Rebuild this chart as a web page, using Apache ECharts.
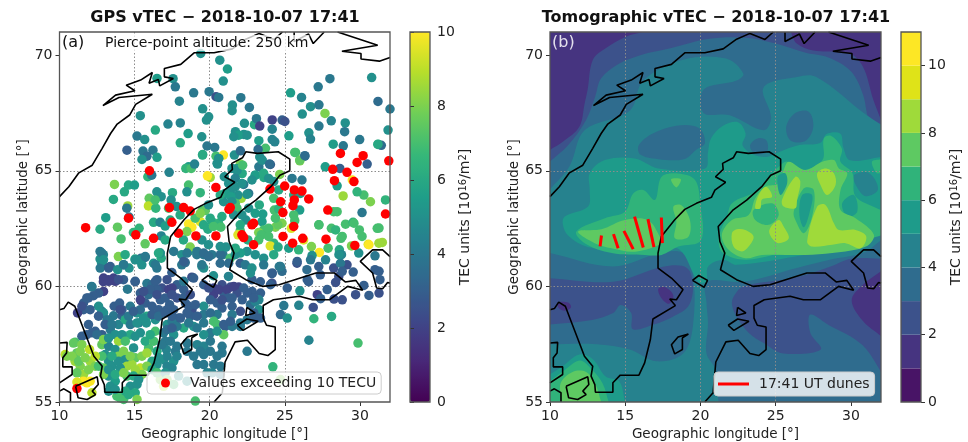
<!DOCTYPE html>
<html><head><meta charset="utf-8">
<script src="https://cdn.jsdelivr.net/npm/echarts@6/dist/echarts.min.js"></script>
<style>html,body{margin:0;padding:0;background:#fff}#c{width:968px;height:442px}</style>
</head><body><div id="c"></div>
<script>
// ---------- GPS pierce points: [lon, lat, TEC]
const gpsPoints = [
[19.4,70.07,5],[20.67,69.78,5],[21.18,69.4,5.5],[20.9,68.88,5],[16.49,68.99,5.5],[17.56,68.98,5],[17.71,68.63,4],[18.93,68.37,4],[19.96,68.42,4],[17.98,68.01,4.5],[20.42,68.2,2.5],[20.6,68.17,4],[22.07,68.16,4],[19.53,67.68,5],[22.64,67.74,4],[21.51,67.84,5],[21.49,67.6,5],[15.38,67.38,5],[19.93,67.33,5],[19.78,67.19,5],[18.04,67.07,4.5],[17.22,67.02,4.5],[16.38,66.76,6],[18.56,66.61,5.5],[19.47,66.47,5],[15.16,66.5,4],[15.67,66.35,5],[18.04,66.21,6],[14.49,65.89,3],[15.56,65.85,4],[16.22,65.89,4],[15.82,65.63,3.5],[16.49,65.58,5.5],[15.49,65.49,5],[19.82,66.07,4],[20.33,66.01,4],[19.53,65.7,6],[20.42,65.63,7],[20.91,65.68,10],[20.49,65.32,5],[20.6,65.53,5],[21.64,65.68,5],[22.04,65.86,3.5],
[22.31,67.05,5],[22.98,66.99,6],[23.11,67.25,4],[24.16,67.2,2],[24.82,67.19,3],[25,67.13,2.5],[23.33,66.93,2],[24.16,66.8,4.5],[21.71,66.69,5],[22.27,66.57,5],[21.93,66.54,5.5],[22.49,66.54,5],[21.6,66.47,5],[23.27,66.3,5.5],[24.16,66.35,4.5],[24.33,66.25,4.5],[25.27,66.51,5.5],[26.6,66.64,5],[26.71,66.37,4.5],[27.27,66.93,4],[28.09,67.16,4.5],[29.02,67.07,5],[28.98,66.69,4],[27.67,67.48,8],[26.71,67.77,5],[27.27,67.85,4],[26.16,67.45,5],[25.38,68.37,5.5],[26.11,68.17,4.5],[27.22,68.63,4],[28,68.98,4],[30.78,69.03,5],[31.2,68,3.5],[32,67.67,4],[31.87,66.76,5],[29.98,66.35,4],[28.22,66.15,5.5],[28.89,66.08,4],[31.2,66.14,6.5],[31.42,66.1,3.5],[26.33,65.63,3.5],[25.71,65.79,7],[26,65.43,8],[23.71,65.97,7],[23.22,65.92,3.5],[23.33,65.6,5],[24.04,65.27,3],[23.49,65.46,5],[23.27,65.17,4],[23.04,64.81,5.5],[23.6,64.71,6],[22.04,65.29,8],[22.16,64.88,6],[21.82,65.1,5.5],
[15.88,64.74,6.5],[16.14,64.81,4],[17.3,64.93,4.5],[18.59,65.17,5.5],[18.41,65.1,6.5],[18.77,65.1,7],[18.99,65.29,4.5],[19.52,65.68,6],[20.03,64.71,8.5],[19.85,64.78,10],[20.52,65.29,5],[20.59,65.53,5],[20.97,64.74,5],[21.48,65.1,5],[21.81,65,5],[22.19,65.24,7],[21.7,64.67,4.5],[22.26,64.41,4],[22.59,64.02,4],[23.03,64.81,5.5],[23.59,64.89,6],[23.48,65.46,5],[23.98,65.29,3.5],[24.66,64.84,8],[25.48,64.67,4],[26.14,64.6,4],[25.99,65.46,7.5],[25.66,65.79,7],[26.33,65.65,3.5],[27.69,65.17,5.5],[28.66,65.1,3],[30.26,63.95,7],[29.81,64.09,6.5],[28.88,63.91,8.5],[28.48,64.35,5.5],[30.48,65.29,3],[29.49,64.6,10],[31.2,66.15,6],[30.7,63.66,8],[31.7,63.74,6.5],[30.14,63.19,4],
[13.66,64.41,8],[14.32,64.09,6],[14.59,64.38,6],[14.99,64.38,5.5],[13.59,63.76,6],[14.54,63.48,8.5],[14.48,63.38,4],[13.08,62.97,5.5],[12.7,62.47,6],[13.86,62.56,7.5],[15.3,62.51,6.5],[14.92,62.33,6.5],[14.1,62.05,7],[15.7,61.84,7.5],[14.63,63,4],[15.97,63.81,7.5],[15.92,63.48,9],[16.48,64.09,5],[16.77,63.88,5],[17.52,64.05,6],[17.43,63.74,5],[16.41,63.38,6.5],[17.26,63.38,7],[16.26,62.77,6],[16.7,62.77,4.5],[17.03,62.61,5.5],[16.77,62.18,4.5],[18.59,64.38,7],[18.48,64.09,5],[19.37,64.05,6.5],[19.52,63.3,7],[19.7,63.28,7.5],[18.59,62.7,10],[18.81,62.56,10],[18.48,62.37,8],[19.37,62.8,9.5],[20.03,62.95,6],[20.14,62.8,6],[20.59,62.73,6.5],[20.74,62.56,7],[19.88,62.47,6],
[21.37,64.09,5],[21.03,64.02,5.5],[21.59,63.81,5],[22.1,63.81,8.5],[21.88,63.95,5],[22.48,63.98,5],[21.41,63.88,5.5],[21.7,63.59,7],[22.59,63.38,5],[23.53,63.13,5.5],[23.3,63.52,6],[24.26,63.81,7],[24.3,63.3,7],[24.59,63.35,6.5],[25.99,63.3,5.5],[25.59,63.09,7],[25.66,62.84,7],[24.81,62.73,8],[24.37,62.56,8],[24.54,62.66,7.5],[23.48,62.8,5.5],[23.59,62.44,7],[23.26,62.33,8],[22.41,62.87,5],[22.03,62.41,7],[21.88,62.23,9.5],[22.54,62.01,6],[23.43,62.23,7],[24.26,61.87,6.5],[24.03,61.75,9.5],[24.55,61.7,6],[25.26,61.65,5.5],[25.43,62.51,9.5],[26.25,62.01,9.5],[26.77,61.72,8],[27.3,61.47,10],[27.88,61.65,7],[26.81,61.33,5],[25.92,61.58,6.5],[24.26,61.37,6],[23.59,61.22,5],[23.03,61.37,5],[22.48,61.51,5],[22.03,61.44,5.5],
[27.26,62.66,7],[28.48,63.23,7],[28.25,63.23,7],[28.1,62.51,7],[28.38,62.44,6.5],[29.04,62.69,7],[29.54,62.77,6.5],[29.96,62.44,7],[31.15,62.51,7],[28.74,62.08,7],[30.14,62.16,7],[30.55,61.82,9.5],[31.26,61.87,8.5],[29.44,61.75,8],[28.63,61.58,6],[28.77,61.37,4.5],[29.92,61.44,5],[31,61.32,4],
[12.7,61.51,4],[12.92,61.37,4.5],[12.7,61.18,5],[12.81,61,5],[13.26,60.82,3],[13.92,61.29,8],[14.37,61.37,6],[14.26,60.93,4],[14.63,60.79,5],[15.03,61.18,6],[15.43,61.22,3.5],[15.7,61.25,3.5],[15.48,60.93,5],[16.26,61,5],[16.48,60.79,4],[16.7,61.44,6.5],[16.77,61.22,6],[17.48,60.6,3],[18.14,60.93,4],[18.37,61.03,3.5],[18.59,61.51,6],[18.7,61.7,8],[18.14,61.37,5],[19.14,61.37,4],[19.59,61.37,4],[19.48,60.86,5],[19.92,61.29,3.5],[19.92,61.8,5],[20.14,61.37,4],[20.88,61.37,4],[21.37,61.22,7],[21.08,61.7,5],[22.03,61,3],[22.37,60.93,4],[23.59,60.93,4],[22.81,60.79,5],[24.14,60.55,3],[24.63,60.86,4],[24.81,60.65,3.5],[25.81,61,2.5],[26.47,60.72,3.5],[27.26,60.86,3],[28.25,60.79,2.5],[29.14,60.93,2.5],[28.7,61,4],[31,60.72,3],[18.81,60.4,2.5],[20.25,60.46,5],[21.25,60.43,4.5],[22.81,60.29,3],[23.37,60.2,3],[24.14,60.14,2.5],[13.25,60.29,2],[12.92,60.2,2],[13.59,60.29,2],[14.26,60.29,3],[15.03,60.2,3],[12.14,60,4],[26.58,60.2,3],[27.36,60.5,3],[28.59,60.43,2.5],[30.26,60.04,3],
[12.16,59.97,4],[12.93,59.78,2],[12.6,59.71,3],[12.27,59.6,3],[13.71,60.22,2],[14.53,59.88,4],[15.04,60.22,3],[15.82,60.12,4],[16.49,60.29,3],[16.16,60.07,3.5],[16.82,59.93,2.5],[17.27,59.86,2],[16.49,59.86,3],[15.38,59.71,3],[15.93,59.64,3.5],[17.82,60.07,3],[18.27,59.86,3],[18.27,60.22,4],[18.93,60.36,3],[19.6,60.07,3],[20.27,59.93,2],[20.82,60.07,2.5],[21.38,59.97,2.5],[21.93,59.97,2],[20.93,59.71,3],[20.27,59.64,2],[21.82,59.71,2.5],[22.82,59.78,3],[23.38,59.71,3],[24.04,60.07,3],[25.16,59.93,3],[26,59.81,5],[26.49,60.29,3],[27.16,59.64,2],[27.82,59.86,3],[28.38,60.17,2.5],[28.82,59.42,2.5],[29.71,59.64,2.5],[30.6,59.61,3],[31.27,59.71,2.5],[31.33,60.29,3],[28.27,59.45,2.5],[27.38,59.47,3],
[11.6,58.99,3],[11.2,58.85,2],[11.6,59.28,3],[11.93,59.5,3],[12.82,58.92,4],[12.93,58.85,5],[13.64,59.14,3],[14,59.28,3],[13.6,58.73,4],[14.16,58.73,3],[14.71,59.14,4],[15.49,59.35,2],[15.71,59.28,3],[15.16,58.85,5],[16.16,59.14,3],[16.71,59.42,3],[16.6,58.99,3],[17.33,59.21,3],[17.82,59.5,2.5],[17.6,58.99,3],[18.38,59.28,3],[18.82,58.99,2.5],[19.6,59.14,5],[20.04,59.42,3],[20.49,59.28,3],[20.82,59.06,3],[21.49,59.14,3],[22.16,59.42,3],[22.71,59.21,3.5],[23.27,59.42,4.5],[23.27,58.99,5],[22.04,58.92,2.5],[21.49,58.78,4],[20.49,58.78,4],[18.71,58.71,3],[25.93,59.18,4.5],[24.93,59.17,4],[24.71,58.78,3.5],[25.16,58.63,5],[26.89,59.09,2.5],[26.93,58.6,6.5],[28.11,58.7,6],
[12.6,59.14,5],[13.16,58.56,4],[14.16,58.99,3],[15.38,58.99,3.5],[17.16,58.99,3],[17.93,58.63,3],[19.6,58.78,4],[20.04,58.85,3.5],[21.04,58.27,3],[22.04,58.42,4],[22.49,58.56,4],[22.93,58.63,3],[23.04,59.35,4.5],[21.49,59.5,3],
[22.71,60.58,5],[24.16,60.58,3],[24.71,60.86,4],[25.82,61.08,3],[26.71,61.15,4],[27.71,61.15,4.5],[28.6,61.37,5],[28.82,60.65,3],[29.55,60.62,3],[31.27,60.65,3],[31.27,62.52,7],[31.49,61.9,8.5],[29.6,62.73,7],[28.82,62.16,7],[27.27,62.66,7],[30.6,61.8,10],
[11.49,57.84,3],[11.93,58.35,3],[12.38,58.06,3],[12.82,57.91,3],[13.27,58.49,4],[13.38,58.13,4],[13.93,58.35,4.5],[13.71,57.91,5],[14.38,58.56,6],[14.71,58.35,4],[15.27,58.42,4],[15.82,58.71,6],[15.78,58.42,5],[16.38,58.56,5],[16.38,58.06,7],[15.38,57.99,5],[14.71,57.91,6],[13.93,57.63,8.5],[12.82,57.48,7.5],[13.27,57.41,4.5],[11.04,57.58,7],[10.38,57.05,9],[11.16,57.12,7.5],[11.38,57.19,8],[12,57.27,9],[13.71,57.27,5],[14.27,57.19,8],[14.93,57.34,5],[15.93,57.34,7],[16.49,57.19,6],[17.16,58.35,5],[17.49,58.49,4],[16.93,57.99,4],[17.6,57.91,5],[17.04,57.63,4],[18.27,58.2,6],[17.82,58.27,4],[18.93,58.27,5],[19.6,58.42,4],[20.27,58.49,7],[20.49,58.35,7],[20.04,57.99,4],[20.93,57.91,7.5],[21.49,58.27,4],[20.82,57.41,4],[19.16,57.48,4.5],[19.6,57.41,4.5],[18.93,56.98,4],[19.38,57.19,4],[17.82,57.41,4],[17.11,57.27,4.5],[20.04,57.19,4],[20.82,57.12,4],[22.49,57.19,4],[24.2,56.52,6.5],[26.6,57.67,4.5],[29.87,57.55,7],
[10.49,56.98,8],[11.04,56.76,8.5],[11.38,56.55,8],[11.6,56.19,8.5],[11.16,56.26,7.5],[12.04,56.76,8.5],[12.38,56.55,8],[12.04,55.9,10],[11.6,55.9,10],[11.16,55.86,9.5],[11.82,55.83,10],[12.16,55.4,9],[13.04,57.05,5],[13.27,56.76,5],[12.82,56.98,7],[13.49,56.55,5],[12.93,56.47,7.5],[13.93,56.98,8],[14.38,56.83,5],[14.49,56.55,8.5],[14.04,56.47,5],[15.04,56.91,7.5],[15.49,56.98,8],[15.82,57.12,8.5],[16.16,56.76,6],[14.82,56.62,8.5],[15.38,56.47,9],[15.82,56.55,8],[16.49,56.62,5],[16.93,56.83,5],[17.16,56.55,4.5],[17.6,56.76,5],[17.49,56.47,4.5],[13.27,56.12,5],[13.71,55.9,5.5],[13.38,55.68,5],[14.49,56.12,7],[14.71,55.68,5],[14.04,55.18,7],[15.16,55.76,5],[15.04,55.4,6],[15.49,56.19,8],[16.93,55.68,9],[18.49,55.9,5],[16.71,55.97,8],[17.93,56.12,5],[19.82,56.26,4.5],[19.16,56.62,4],[19.6,56.62,4],[20.27,56.62,4],[20.71,56.55,4],[20.16,56.26,4.5],[20.71,56.19,4],[24.71,55.97,8],[19.04,55.04,7],[13.82,55.25,7],[14.27,55.11,7],
[12.93,60.36,2],[13.27,60.22,2],[13.6,60.36,2],[13.93,60.29,2.5],[12.71,60.79,4],[13.27,60.79,3],[12.82,61.44,4],[12.93,61.15,5],[13.38,60.86,3],[13.87,60.72,5],[14.27,60.94,4],[15.04,61.15,5],[15.38,61.15,5],[15.71,61.29,4],[16.38,60.94,4],[16.71,61.44,5],[17.6,61.51,4],[18.27,61.08,3],[18.49,61.44,4],[19.16,61.51,4],[19.6,61.44,3.5],[19.93,61.29,3.5],[19.6,60.79,5],[20.71,61.37,3.5],
[17.16,60.29,2.5],[17.49,59.93,2],[16.38,60.22,3],[16.04,59.86,3],[15.38,59.42,2],[15.6,59.78,2.5],[16.49,59.64,2.5],[17.04,59.5,3],[17.49,59.64,2.5],[18.27,59.5,3],[18.6,59.14,3],[19.04,59.21,3],[18.71,59.64,2.5],[19.93,59.93,2.5],[20.6,59.86,2],[21.16,59.86,2],[21.6,60,2],[21.27,59.5,3],[20.82,59.42,2.5],[22.49,59.71,3],[22.27,59.93,3],[22.93,59.5,3],
[11.49,59.14,2.5],[11.82,59.5,3],[12.04,58.99,3],[12.6,58.71,3],[13.04,58.35,3],[13.49,58.35,4],[14.04,58.99,2.5],[14.6,58.71,4],[14.93,58.92,3],[15.16,58.42,5],[15.6,58.63,5],[16.16,58.78,3],[16.6,58.71,3.5],[17.04,58.85,3],[17.49,58.71,3],[17.16,58.13,3.5],[17.49,58.2,3],[18.05,58.63,3],[18.49,58.85,3],[19.16,58.71,3],[18.6,58.42,4],[19.16,58.2,4],[19.6,57.91,5],[20.49,58.06,5],[20.93,58.35,3],[22.04,58.27,4],[21.38,58.49,3],[22.93,58.85,3],[23.38,58.63,3],
[12.16,57.99,3],[11.82,57.91,3],[12.49,57.91,3.5],[12.93,57.7,8],[13.27,57.77,5],[14.16,57.91,5],[14.38,57.63,7],[15.04,57.84,5],[15.71,57.63,6],[16.27,57.63,7],[16.04,57.91,6],[16.82,57.48,4],[17.38,57.63,4],[17.71,57.19,4],[18.49,57.55,4],[18.49,57.19,4],[20.04,57.63,4],[20.49,56.98,4],[19.6,57.05,4],[17.16,56.98,4.5],[16.6,56.91,5],[17.82,56.98,4.5],
[10.93,57.55,7.5],[11.49,57.48,8],[10.82,56.98,8],[11.27,56.76,7.5],[11.71,56.91,8],[12.38,56.98,9],[11.93,56.4,8],[12.6,56.55,7],[12.93,56.19,8],[13.27,56.4,5],[13.71,56.19,6],[13.93,56.76,5],[13.49,56.98,6],[14.71,56.98,8],[14.27,56.26,8],[15.04,56.4,8.5],[14.93,56.12,6],[15.27,55.97,5],[16.16,56.4,6],[16.49,56.26,7],[17.04,56.26,5],[17.16,55.97,8],[17.6,55.76,7],[13.27,55.47,5],[13.71,55.54,5],[14.38,55.47,6],[15.16,55.11,8],[14.6,55.32,6],
[21.26,64.45,5],[21.7,64.31,5],[22.14,64.45,5],[20.92,63.66,5],[21.48,63.66,5],[20.7,63.95,6],[21.81,63.38,7],[22.14,63.09,5],[21.59,63.09,5],[23.03,63.16,5.5],[22.03,62.66,6],[23.26,62.01,7],[23.92,62.51,7],[23.92,62.16,7],[24.37,62.95,7],[25.59,63.95,6],[26.03,64.02,5.5],[24.59,64.17,6],[24.26,64.53,5],[23.92,64.67,5],[22.81,64.6,5],[16.37,63.74,7],[17.81,63.45,5],[18.03,63.09,6],[19.03,62.95,7],[19.59,62.66,6],[20.25,62.59,7],[20.81,63.02,6],[19.48,62.01,5],[18.25,62.01,6],[19.92,63.52,5],[19.37,63.16,8],[17.37,62.87,6],[17.04,62.01,6],[16.59,61.44,6],[19.48,60.93,4],[20.7,61,3.5],[21.26,61,3.5],[21.7,61.37,5],[20.7,61.72,5],[21.7,61.65,6]
];
// Points above the colour scale, drawn in red
const redPoints = [[15.99,65],[28.7,65.75],[30.21,65.65],[29.81,65.36],[31.92,65.43],[28.19,65.06],[29.14,64.93],[28.3,64.57],[29.6,64.53],[20.41,64.28],[24.01,64.21],[24.99,64.34],[25.63,64.17],[26.14,64.12],[26.59,63.78],[24.72,63.66],[25.63,63.74],[25.54,63.49],[17.32,63.41],[18.26,63.41],[18.7,63.26],[21.37,63.41],[21.28,63.33],[24.87,63.19],[27.86,63.3],[31.7,63.13],[14.59,62.95],[17.48,62.77],[22.92,62.73],[22.81,62.66],[11.74,62.54],[25.59,62.59],[17.92,62.3],[15.08,62.23],[16.26,62.08],[19.08,62.18],[20.41,62.18],[22.14,62.23],[22.26,62.11],[24.88,62.16],[26.19,62.08],[27.74,62.04],[22.92,61.8],[25.52,61.87],[29.66,61.77],[11.16,55.58]];

const coastNorway = [[10,63.88],[10.62,64.31],[11.29,64.91],[12.18,65.24],[12.84,65.97],[13.4,66.61],[13.84,67.02],[14.67,67.41],[15.07,67.87],[16.18,68.31],[13.96,68.17],[12.89,67.82],[13.73,68.27],[15.02,68.46],[14.44,68.7],[15.4,68.92],[16.18,69.25],[15.96,68.78],[16.58,68.95],[16.67,68.67],[17.58,68.99],[16.98,69.06],[16.98,69.42],[18.07,69.6],[18.96,70.1],[20.29,70.1],[21.51,70.27],[22.4,70.69],[23.29,70.94],[24.29,70.68],[24.84,71]];
const coastNorth1 = [[25.62,71],[25.62,70.59],[26.58,70.91],[26.89,70.5],[27.62,71]];
const coastKola = [[28.51,71],[31.18,70.43],[28.8,70.17],[30.07,70.07],[30.07,69.83],[31.29,69.74],[32,69.9]];
const coastSweden = [[25.33,65],[25.33,65.5],[24.56,65.82],[23.18,65.75],[22.4,65.82],[22.18,65.56],[21.47,65.32],[21.51,65.06],[21,64.74],[21.67,64.5],[20.96,64.16],[20.73,63.85],[19.73,63.59],[18.96,63.33],[18.29,62.88],[17.4,62.16],[17.18,61.44],[17.18,60.79],[18.07,60.36],[18.84,59.86],[18.4,59.42],[17.96,59.45],[18.33,59.17],[16.84,58.59],[16.67,57.7],[16.29,56.69],[15.91,56.16],[14.67,56.16],[14.18,55.83],[14.18,55.42],[13.02,55.42],[12.98,55.75],[12.73,56.12],[12.84,56.55],[12.29,56.98],[11.91,57.63],[11.4,58.49],[11.02,59.14],[10.58,59.32],[10.29,59.04],[10,58.99]];
const coastFinland = [[25.33,65],[24.67,64.81],[24.07,64.31],[23.07,63.73],[22.18,63.31],[21.18,62.59],[21.29,61.94],[21.62,61.44],[21.33,60.72],[22.4,60.29],[23.51,60],[24.62,60.07],[27.07,60.58],[28.29,60.58],[29.02,60.19],[29.73,60.26],[30.18,59.83],[29.18,60],[27.96,59.42],[26.84,59.42],[25.96,59.57],[24.24,59.42],[23.56,59.17],[23.56,58.63],[23.78,58.32],[24.36,58.24],[24.36,57.27],[23.87,57.01],[23.29,57.1],[22.51,57.67],[21.69,57.6],[21.02,56.73],[20.84,55.4],[20.29,55]];
const coastJutland = [[10,57.55],[10.51,57.58],[10.47,57.12],[10.22,56.91],[10.22,56.52],[10.84,56.52],[10.84,56.19],[10,55.83]];
const coastFunen = [[10,55.47],[10.29,55.57],[10.73,55.4],[10.73,55]];
const coastZealand = [[11.07,55.68],[12.51,56.09],[12.58,55.76],[12.18,55.47],[12.4,55.32],[11.84,55.11],[11.24,55.18],[11.07,55.68]];
const coastGotland = [[19.2,57.94],[18.51,57.81],[18.07,57.48],[18.29,57.08],[18.8,57.27],[18.8,57.77],[19.2,57.94]];
const coastAland = [[19.47,60.26],[19.89,60.47],[20.47,60.26],[20.24,59.96],[19.47,60.26]];
const coastSaaremaa = [[21.84,58.32],[22.47,58.59],[23.22,58.49],[22.22,58.1],[21.84,58.32]];
const coastHiiumaa = [[22.47,59.09],[23.02,58.85],[22.4,58.74],[22.47,59.09]];
const coastLadoga1 = [[32,61.29],[31.51,61.58],[30.84,61.58],[30.02,61.08],[30.84,60.58],[31.11,59.93],[31.51,59.9],[31.84,60.17],[32,60.14]];
const coastLines = [coastNorway,coastNorth1,coastKola,coastSweden,coastFinland,coastJutland,coastFunen,coastZealand,coastGotland,coastAland,coastSaaremaa,coastHiiumaa,coastLadoga1];

// ---------- Dune crests, panel (b)
const duneLines = [[[13.42,62.2],[13.33,61.73]],[[14.22,62.26],[14.53,61.65]],[[14.91,62.4],[15.53,61.61]],[[15.62,63.02],[16.2,61.68]],[[16.51,62.91],[16.91,61.7]],[[17.4,62.98],[17.47,61.87]]];

// ---------- Filled contour bands, painted in order: [band index, outline]
const bandFrame = [[10,55],[10,71],[32,71],[32,55]];
const bandTwoOuter = [[10,65.9],[10.85,66.25],[11.95,66.9],[12.3,67.9],[12.5,68.5],[12.85,69.8],[13.7,70.3],[15.05,70.8],[16.2,71],[26,71],[26.4,70.5],[27.5,70.2],[29.9,70.07],[30.8,69.5],[31.5,68.05],[32,67.2],[32,55],[10,55]];
const bandThreeOuter = [[10,65.4],[11.2,66.1],[12.4,67.2],[13,68.2],[13.4,69],[14.5,69.6],[16,70],[18,70.3],[20.5,70.7],[23,70.75],[25,70.5],[27,70.1],[28.5,69.9],[30,69.3],[30.8,68.3],[31.2,67.2],[32,66.5],[32,55],[10,55]];
const lowWest = [[10,60.35],[14.2,60.2],[17.5,60.85],[19.1,60.8],[19.5,60],[19.2,59.15],[18.2,58.7],[16.9,58.35],[15.5,58.15],[15.4,58.85],[14.7,59.2],[14.2,58.85],[12.8,58.55],[10,58.35]];
const lowEast = [[22.2,59.55],[22.85,60],[26.4,60.4],[28.6,60.85],[30,61.2],[32,61.2],[32,56.3],[31,57.3],[29.96,57.84],[28.6,58.3],[27.3,58.78],[27.3,58],[28,57.27],[25.5,57.1],[24.2,57.55],[23.2,58],[22.4,58.7],[22.1,59.2]];
const minSweden = [[17.2,59.9],[17.7,59.95],[18.2,59.6],[17.9,59.25],[17.4,59.5]];
const minSkagerrak = [[10.5,59.3],[11.2,59.3],[11.4,59.1],[11,58.95],[10.6,59.05]];
const minNorth = [[17.6,65.85],[18.3,65.9],[18.3,65.6],[17.6,65.6]];
const minEast = [[32,60.65],[30.8,60.07],[30.05,59.4],[30.8,58.5],[32,57.85]];
const bandFourMain = [[10,64.2],[11.3,65.2],[12.3,66.75],[15.3,67.6],[16.2,68.9],[18.85,69.8],[21.7,69.85],[22.85,69.2],[22.4,68.9],[20.2,68.5],[20.2,67.5],[21.95,67.4],[24.2,66.75],[24.7,67.3],[24.2,68.6],[26.4,69.05],[27.7,69.05],[30.85,67.5],[32,67],[32,62],[30.8,61.45],[28.6,61.15],[26.4,60.8],[22.85,60.2],[20.4,60.2],[20.4,59.3],[20.5,58.4],[20.4,57.1],[21,56.4],[21.2,55],[10,55],[10,57.5],[13.1,57.5],[15.3,57.27],[17.07,56.76],[18.85,57.1],[19.5,58.3],[19.5,60.6],[18.85,61.44],[17.3,61.44],[14.2,60.86],[10,61.44]];
const dipLapland = [[15.9,66.1],[16.8,66.6],[18.4,66.95],[19.9,66.85],[20.3,66.2],[19.7,65.9],[18.9,65.5],[17.2,65.5],[16,65.7]];
const dipBothnia = [[23.3,66.1],[23.8,66.4],[24.4,66.3],[24.4,65.8],[23.6,65.75]];
const dipKola = [[25.7,66.9],[26.3,67.5],[27.2,67.55],[27.5,66.9],[27,66.3],[26,66.3]];
const bandFiveMain = [[10.85,62.7],[10.98,63.02],[12.53,63.45],[12.64,64.17],[12.64,64.89],[13.64,65.46],[15.64,65.53],[17.2,65.1],[20.31,65.1],[20.5,65.8],[20.7,66.4],[21.5,66.95],[22.5,67.1],[23,66.6],[22.8,66.1],[23.5,65.7],[24.4,65.6],[25.2,65.8],[26.5,66.1],[27.95,66.2],[28.4,66.6],[29.3,66.6],[29.5,66],[29.95,65.45],[32,65.6],[32,62.5],[29.95,61.73],[28.6,61.58],[26.4,61.3],[22.4,60.93],[21.5,61.15],[20.5,60.85],[20.4,60.2],[19.85,60.2],[18.6,61.6],[17,61.55],[14.5,61.6],[12.5,61.7],[11.2,62.2]];
const bandFiveSW = [[10,56.2],[10.85,56.55],[11.95,57.05],[12.85,56.85],[13.7,56.1],[14.6,55.9],[15,55],[10,55]];
const dipKarelia = [[30.2,64.8],[31.2,64.9],[31.8,64.2],[31,63.9],[30.4,64.3]];
const bandSixWest = [[11.75,62.37],[13.65,62.95],[14.98,63.23],[15.53,64.02],[16.2,64.17],[16.98,63.74],[17.42,64.74],[18.53,64.88],[19.64,64.6],[19.98,63.6],[20.04,62],[18.53,61.72],[17.42,61.36],[16.3,61.36],[14.1,61.44],[12.3,61.87]];
const bandSixEast = [[21.2,62],[21.4,62.5],[21.75,63],[22.1,63.6],[23.64,64.1],[24.76,64.88],[25.2,65.17],[25.75,65.4],[26.6,65],[28.1,65.45],[28.2,66.4],[28.7,66.5],[29.4,65.95],[29.3,65.4],[30.1,64.9],[30.3,63.9],[31.65,63.4],[32,63.3],[32,62.2],[30.85,62],[29,61.9],[26.2,61.58],[23.07,61.15],[21.5,61.44]];
const bandSixSW = [[10,55.9],[11,56.4],[12,56.8],[12.8,56.4],[13.5,55.8],[13.9,55],[10,55]];
const bandSixEdge = [[31.4,65.4],[32,65.5],[32,64.9],[31.7,64.9]];
const dipSaimaa = [[29.42,63.59],[30.2,63.95],[30.42,63.23],[29.76,63.02]];
const bandSevenWest = [[11.87,62.37],[13.42,62.47],[14.98,62.87],[16.5,62.87],[17.3,62.15],[17.4,61.85],[15.64,61.5],[14.1,61.65],[12.97,61.87]];
const bandSevenMid = [[18.2,63.45],[18.75,63.5],[19.3,62.87],[19.2,62.15],[18.3,62.08],[18.4,62.8]];
const bandSevenSmall = [[18.05,64.63],[18.7,64.63],[18.4,64.28]];
const bandSevenEast = [[21.42,62.23],[22.09,62.87],[23.2,63.09],[23.64,63.81],[24.31,64.31],[25.2,64.45],[25.53,65.03],[25.87,65.39],[26.98,65.03],[28.09,65.39],[28.87,65.46],[29.2,65.1],[29.76,64.89],[29.31,64.17],[29.31,63.3],[30.31,62.95],[31.53,62.23],[31,61.72],[28.76,61.44],[26.98,61.36],[24.09,61.36],[22.98,61.22],[21.87,61.58]];
const bandSevenSW = [[10.8,55],[10.7,55.8],[11.5,56.3],[12.4,56.3],[13,55.8],[13.4,55]];
const dipA = [[23.53,63.3],[24.76,63.59],[25.2,63.09],[24.53,62.66],[23.64,62.87]];
const dipB = [[26.2,63.23],[26.87,64.24],[27.53,64.17],[27.42,63.02],[26.87,62.3],[26.31,62.87]];
const dipBInner = [[26.76,63.95],[27.42,63.95],[27.24,63.16],[26.87,62.56],[26.58,63.09]];
const dipC = [[25.13,64.74],[25.64,64.89],[25.76,64.45],[25.31,63.95]];
const peak1 = [[22.09,62.3],[22.42,62.47],[22.98,62.44],[23.53,62.16],[23.2,61.72],[22.76,61.51],[22.2,61.72]];
const peak2 = [[24.58,62.44],[25.2,62.87],[25.53,62.59],[25.87,62.08],[25.2,61.87],[24.76,62.08]];
const peak3 = [[23.64,63.38],[23.87,63.95],[24.36,64.31],[24.76,63.88],[24.09,63.76],[23.98,63.38]];
const peak4 = [[25.42,63.74],[26.31,64.74],[26.64,64.53],[26.42,63.74],[26.31,63.38],[25.53,63.45]];
const peak5 = [[27.76,64.89],[28.31,65.1],[28.87,64.89],[28.98,64.38],[28.42,63.95],[27.98,64.38]];
const peak6 = [[27.09,61.94],[27.76,63.45],[28.31,63.52],[28.87,62.73],[29.2,62.44],[30.31,62.44],[31.02,62.16],[30.64,61.65],[29.64,61.87],[28.76,61.8],[27.42,61.72]];
const contourLayers = [
 [1,bandFrame],[2,bandTwoOuter],[3,bandThreeOuter],[2,lowWest],[2,lowEast],[1,minEast],[1,minSweden],[1,minSkagerrak],[1,minNorth],
 [4,bandFourMain],[3,dipLapland],[3,dipBothnia],[3,dipKola],[5,bandFiveMain],[5,bandFiveSW],[4,dipKarelia],
 [6,bandSixWest],[6,bandSixEast],[6,bandSixSW],[6,bandSixEdge],[5,dipSaimaa],
 [7,bandSevenWest],[7,bandSevenMid],[7,bandSevenSmall],[7,bandSevenEast],[7,bandSevenSW],[6,dipA],[6,dipB],[5,dipBInner],[5,dipC],
 [8,peak1],[8,peak2],[8,peak3],[8,peak4],[8,peak5],[8,peak6]
];
const bandColors = ['#481466','#463480','#3c528b','#2f6c8e','#26828e','#1e9b8a','#30b37a','#5ec962','#9fda3a','#dfe318','#fde725'];
const viridis = ['#440154','#482878','#3e4989','#31688e','#26828e','#1f9e89','#35b779','#6ece58','#b5de2b','#fde725'];
const lonTicks = [10,15,20,25,30], latTicks = [55,60,65,70];

const FONT = 'DejaVu Sans';
const gridPos = [
 {left:59.5,top:32,width:330.5,height:370},
 {left:550,top:32,width:331,height:370},
 {left:410,top:32,width:20,height:370},
 {left:901,top:32,width:20,height:370}
];
const GRIDLINE = {color:'#8c8c8c',type:[1.5,2],width:1};
function geoX(i,z){return {gridIndex:i,type:'value',min:10,max:32,interval:5,z:z,
  name:'Geographic longitude [°]',nameLocation:'middle',nameGap:23,nameTextStyle:{fontFamily:FONT,fontSize:13.5,color:'#222'},
  axisLine:{show:false},axisTick:{show:true,length:4,lineStyle:{color:'#333'},customValues:lonTicks},
  axisLabel:{color:'#222',fontFamily:FONT,fontSize:14,margin:7,showMaxLabel:false,alignMinLabel:'center',alignMaxLabel:'center'},
  splitLine:{show:true,showMaxLine:false,showMinLine:false,lineStyle:GRIDLINE}};}
function geoY(i,z){return {gridIndex:i,type:'value',min:55,max:71,interval:5,z:z,
  name:'Geographic latitude [°]',nameLocation:'middle',nameGap:29,nameTextStyle:{fontFamily:FONT,fontSize:13.5,color:'#222'},
  axisLine:{show:false},axisTick:{show:true,length:4,lineStyle:{color:'#333'},customValues:latTicks},
  axisLabel:{color:'#222',fontFamily:FONT,fontSize:14,margin:7,showMaxLabel:false,verticalAlignMinLabel:'middle',verticalAlignMaxLabel:'middle'},
  splitLine:{show:true,showMaxLine:false,showMinLine:false,lineStyle:GRIDLINE}};}
function cbY(i,max,showMax){return {gridIndex:i,type:'value',position:'right',min:0,max:max,interval:2,z:10,
  name:'TEC units [10{s|16}/m{s|2}]',nameLocation:'middle',nameGap:20,nameRotate:90,
  nameTextStyle:{fontFamily:FONT,fontSize:14,color:'#222',rich:{s:{fontFamily:FONT,fontSize:10,color:'#222',verticalAlign:'top',lineHeight:12}}},
  axisLine:{show:false},axisTick:{show:true,length:4,lineStyle:{color:'#333'}},
  axisLabel:{color:'#222',fontFamily:FONT,fontSize:14,margin:7,showMaxLabel:showMax,verticalAlignMinLabel:'middle',verticalAlignMaxLabel:'middle'},splitLine:{show:false}};}

function coastSeries(xi){return coastLines.map(function(c){return {type:'line',xAxisIndex:xi,yAxisIndex:xi,data:c,showSymbol:false,symbol:'none',z:3,silent:true,
  lineStyle:{color:'#000',width:1.6},clip:true,animation:false};});}

function onFrame(p){return p[0]===10||p[0]===32||p[1]===55||p[1]===71;}
const series = [
 {type:'scatter',name:'vTEC',xAxisIndex:0,yAxisIndex:0,data:gpsPoints,symbolSize:9.5,z:2,itemStyle:{opacity:1},animation:false},
 {type:'scatter',name:'Values exceeding 10 TECU',xAxisIndex:0,yAxisIndex:0,data:redPoints,symbolSize:9.5,z:2,itemStyle:{color:'#ff0000',opacity:1},animation:false}
].concat(coastSeries(0)).concat([
 {type:'custom',name:'contours',xAxisIndex:1,yAxisIndex:1,z:1,silent:true,animation:false,clip:true,
  data:contourLayers.map(function(l,i){return [i];}),encode:{x:-1,y:-1},
  renderItem:function(params,api){
    var l=contourLayers[params.dataIndex], pts=[];
    l[1].forEach(function(p){var c=api.coord(p);pts.push(c);if(onFrame(p))pts.push(c.slice());});
    return {type:'polygon',shape:{points:pts,smooth:0.35},style:{fill:bandColors[l[0]],stroke:null}};
  }}
]).concat(coastSeries(1)).concat(duneLines.map(function(d){return {type:'line',name:'17:41 UT dunes',xAxisIndex:1,yAxisIndex:1,data:d,symbol:'none',showSymbol:false,z:4,
  itemStyle:{color:'#ff0000'},lineStyle:{color:'#ff0000',width:3},animation:false};})).concat(bandColors.map(function(c){return {type:'bar',xAxisIndex:3,yAxisIndex:3,stack:'cb',data:[1],barWidth:'100%',itemStyle:{color:c},silent:true,animation:false};}));

const frames = gridPos.map(function(g){return {type:'rect',z:20,silent:true,shape:{x:g.left,y:g.top,width:g.width,height:g.height},style:{fill:null,stroke:'#555',lineWidth:1.3}};});

const option = {
 animation:false,backgroundColor:'#fff',textStyle:{fontFamily:FONT},
 title:[
  {text:'GPS vTEC − 2018-10-07 17:41',left:225,top:10,textAlign:'center',textStyle:{fontFamily:FONT,fontSize:16,fontWeight:'bold',color:'#111'},padding:0},
  {text:'Tomographic vTEC − 2018-10-07 17:41',left:716,top:10,textAlign:'center',textStyle:{fontFamily:FONT,fontSize:16,fontWeight:'bold',color:'#111'},padding:0}
 ],
 grid:gridPos.map(function(g){return Object.assign({containLabel:false,show:false,outerBoundsMode:'none'},g);}),
 xAxis:[geoX(0,0),geoX(1,2),{gridIndex:2,type:'value',min:0,max:1,show:false},{gridIndex:3,type:'category',data:[''],show:false}],
 yAxis:[geoY(0,0),geoY(1,2),cbY(2,10,true),cbY(3,11,false)],
 visualMap:[{type:'continuous',seriesIndex:0,dimension:2,min:0,max:10,inRange:{color:viridis},left:410,top:32,itemWidth:20,itemHeight:370,padding:0,calculable:false,hoverLink:false,showLabel:false,text:null}],
 legend:[
  {data:[{name:'Values exceeding 10 TECU',icon:'circle'}],left:147,top:372,orient:'horizontal',z:6,padding:[4,5,4,14],itemWidth:9,itemHeight:9,itemGap:0,
   backgroundColor:'rgba(255,255,255,0.8)',borderColor:'#ccc',borderWidth:1,borderRadius:4,selectedMode:false,textStyle:{fontFamily:FONT,fontSize:14,color:'#222',padding:[0,0,0,15]}},
  {data:[{name:'17:41 UT dunes',icon:'rect'}],left:714,top:372,orient:'horizontal',z:6,padding:[5,5,5,4],itemWidth:31,itemHeight:3,itemGap:0,
   backgroundColor:'rgba(255,255,255,0.8)',borderColor:'#ccc',borderWidth:1,borderRadius:4,selectedMode:false,textStyle:{fontFamily:FONT,fontSize:14,color:'#222',padding:[0,0,0,5]}}
 ],
 graphic:frames.concat([
  {type:'text',z:21,silent:true,left:62,top:35,style:{text:'(a)',fontFamily:FONT,fontSize:16,fill:'#111'}},
  {type:'text',z:21,silent:true,left:552,top:35,style:{text:'(b)',fontFamily:FONT,fontSize:16,fill:'rgba(255,255,255,0.85)'}},
  {type:'text',z:21,silent:true,left:104,top:35,style:{text:'Pierce-point altitude: 250 km',fontFamily:FONT,fontSize:14,fill:'#111',backgroundColor:'rgba(255,255,255,0.75)',padding:[1,1,1,1]}}
 ]),
 series:series
};
echarts.init(document.getElementById('c'),null,{renderer:'canvas'}).setOption(option);
</script></body></html>
